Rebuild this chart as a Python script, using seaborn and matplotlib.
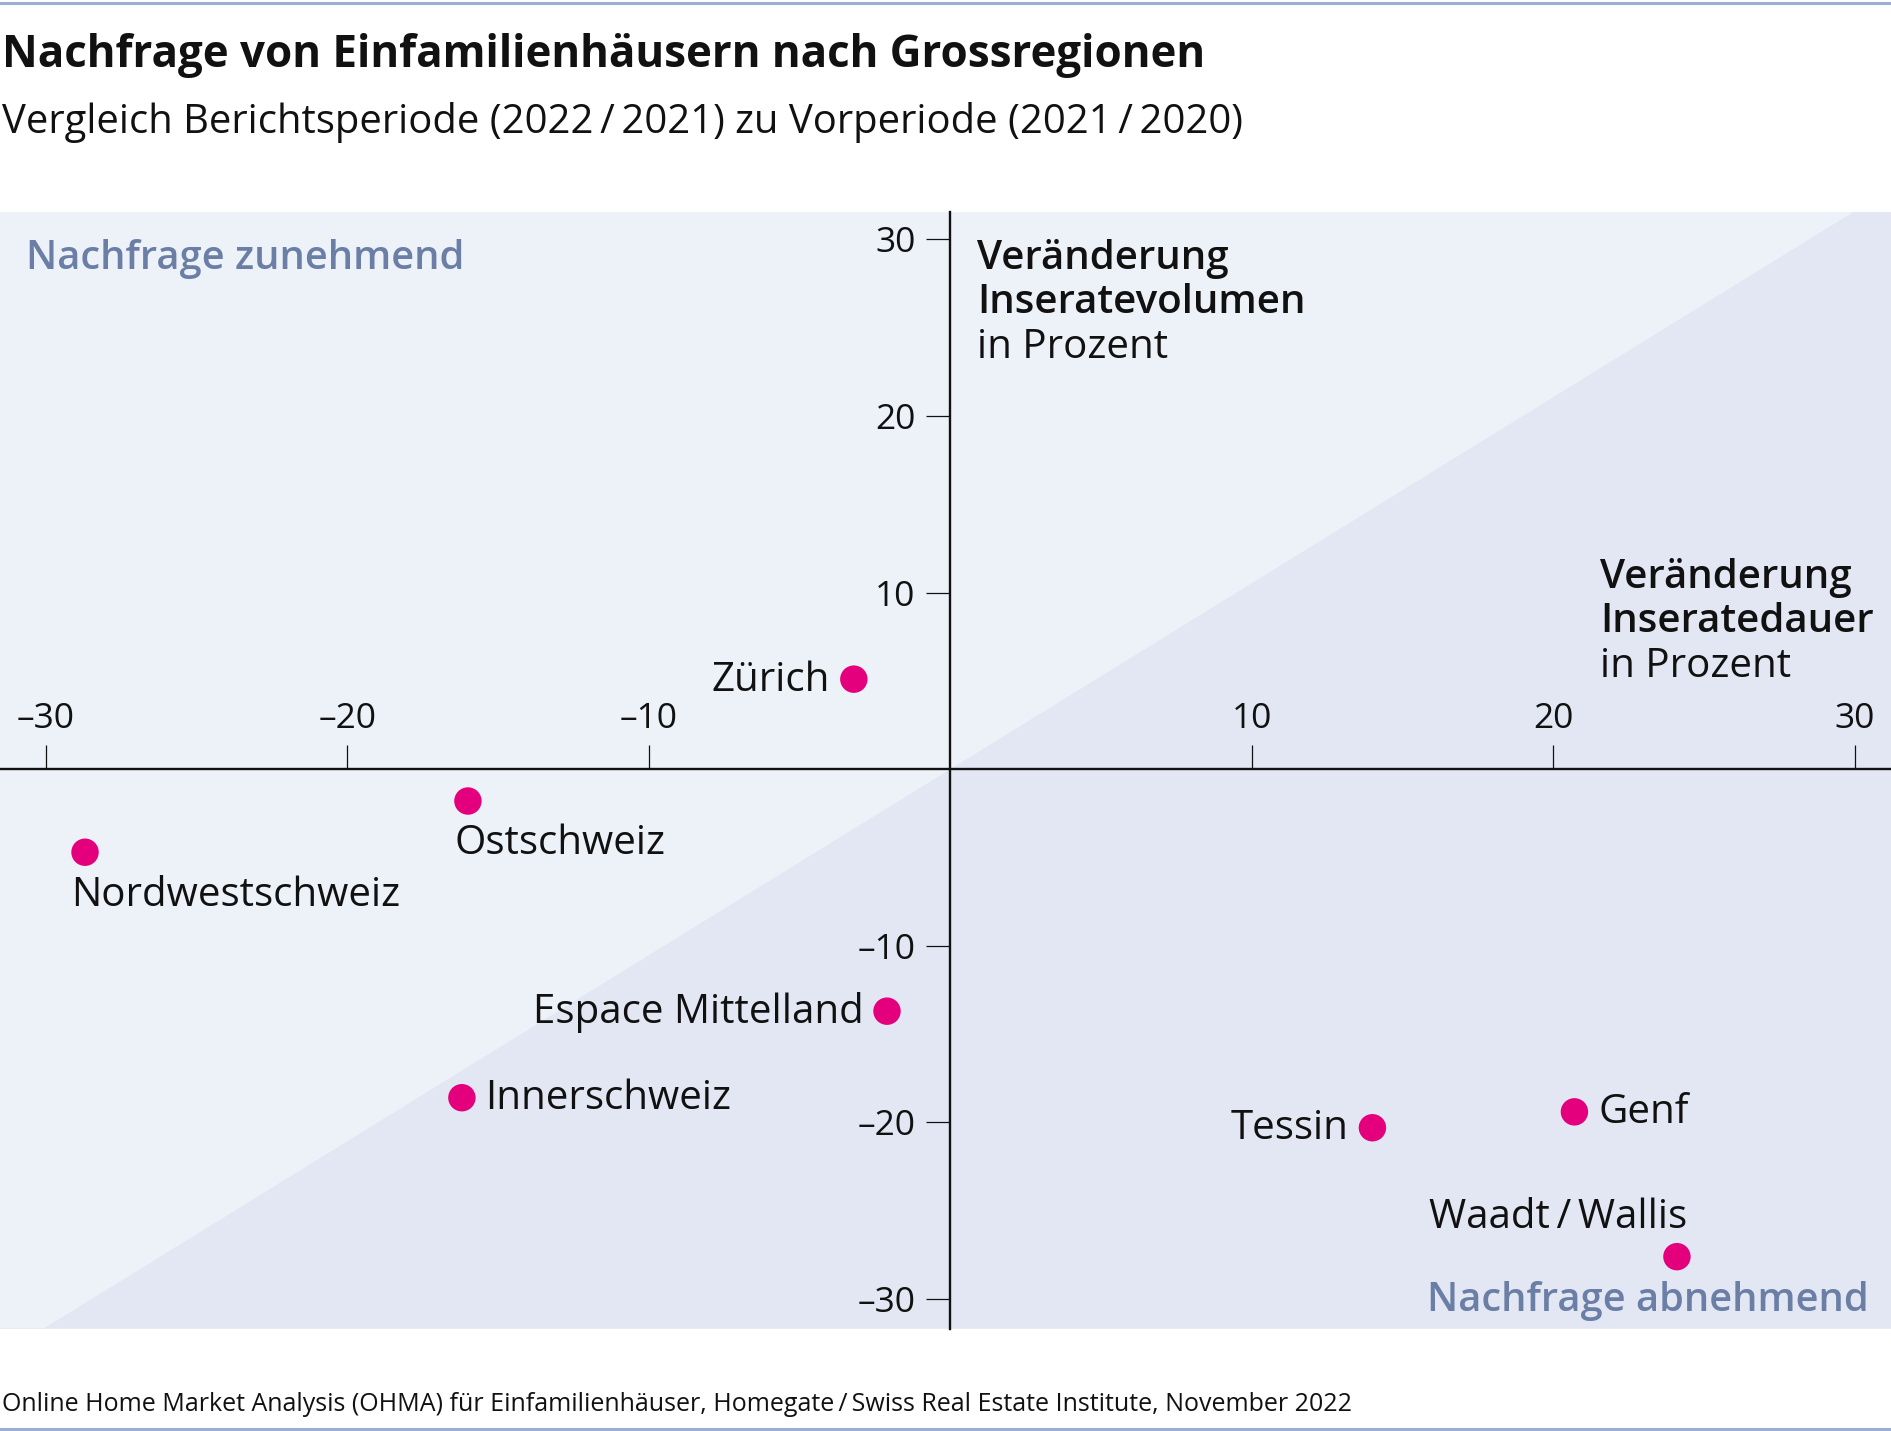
import matplotlib
matplotlib.use("Agg")
import matplotlib.pyplot as plt
import matplotlib.lines as mlines
import seaborn as sns
import pandas as pd
import numpy as np

# data
REGIONS = ["Zürich", "Ostschweiz", "Nordwestschweiz", "Espace Mittelland",
           "Innerschweiz", "Tessin", "Genf", "Waadt\u2009/\u2009Wallis"]
DAUER = [-3.2, -16.0, -28.7, -2.1, -16.2, 14.0, 20.7, 24.1]       # x: Veränderung Inseratedauer
VOLUMEN = [5.1, -1.8, -4.7, -13.7, -18.6, -20.3, -19.4, -27.6]   # y: Veränderung Inseratevolumen
LABEL_SIDE = ["left", "below", "below", "left", "right", "left", "right", "above"]
X_TICKS = [-30, -20, -10, 10, 20, 30]
Y_TICKS = [-30, -20, -10, 10, 20, 30]

TITLE = "Nachfrage von Einfamilienhäusern nach Grossregionen"
SUBTITLE = "Vergleich Berichtsperiode (2022\u2009/\u20092021) zu Vorperiode (2021\u2009/\u20092020)"
SOURCE = "Online Home Market Analysis (OHMA) für Einfamilienhäuser, Homegate\u2009/\u2009Swiss Real Estate Institute, November 2022"

# styles
FIG_W, FIG_H, DPI = 18.91, 14.31, 100
TEXT_COLOR = "#111111"
POINT_COLOR = "#e4007c"
BG_LIGHT = "#edf1f8"
BG_DARK = "#e2e7f3"
HINT_COLOR = "#6b7ea5"
RULE_COLOR = "#9caed6"
XLIM = (-31.52, 31.2)
YLIM = (-31.67, 31.54)
DIAG_SLOPE = 31.6 / 30
LABEL_SIZE = 29

sns.set_style("white")
plt.rcParams["font.family"] = ["Open Sans", "DejaVu Sans"]
plt.rcParams["text.color"] = TEXT_COLOR

df = pd.DataFrame({"region": REGIONS, "dauer": DAUER, "volumen": VOLUMEN, "side": LABEL_SIDE})

fig = plt.figure(figsize=(FIG_W, FIG_H), dpi=DPI)
ax = fig.add_axes([0, 0.0716, 1, 0.7801])
ax.set_facecolor(BG_LIGHT)
ax.set_xlim(*XLIM)
ax.set_ylim(*YLIM)

# darker triangle below the diagonal
xs = np.array(XLIM)
ax.fill_between(xs, xs * DIAG_SLOPE, YLIM[0], color=BG_DARK, lw=0, zorder=0)

sns.scatterplot(data=df, x="dauer", y="volumen", ax=ax, s=390, color=POINT_COLOR,
                edgecolor="none", linewidth=0, zorder=5, legend=False)

offsets = {
    "left": ((-17, -1), "right", "center"),
    "right": ((17, -1), "left", "center"),
    "below": ((-10, -31), "left", "center"),
    "above": ((7, 28), "right", "center"),
}
for _, row in df.iterrows():
    (dx, dy), ha, va = offsets[row["side"]]
    ax.annotate(row["region"], (row["dauer"], row["volumen"]), xytext=(dx, dy),
                textcoords="offset points", ha=ha, va=va, fontsize=LABEL_SIZE, color=TEXT_COLOR)

# axes through zero
for s in ["right", "bottom"]:
    ax.spines[s].set_visible(False)
ax.spines["top"].set_position(("data", 0))
ax.spines["left"].set_position(("data", 0))
for s in ["top", "left"]:
    ax.spines[s].set_linewidth(1.7)
    ax.spines[s].set_color(TEXT_COLOR)
ax.xaxis.set_ticks_position("top")
ax.yaxis.set_ticks_position("left")
ax.set_xticks(X_TICKS)
ax.set_yticks(Y_TICKS)
ax.set_xticklabels([str(t).replace("-", "\u2013") for t in X_TICKS])
ax.set_yticklabels([str(t).replace("-", "\u2013") for t in Y_TICKS])
ax.tick_params(axis="x", direction="out", length=17, width=0.9, pad=7, labelsize=25.5, colors=TEXT_COLOR)
ax.tick_params(axis="y", direction="out", length=17, width=0.9, pad=8, labelsize=25.5, colors=TEXT_COLOR)
ax.set_xlabel("")
ax.set_ylabel("")

# axis descriptions
ax.text(0.5166, 0.958, "Veränderung", transform=ax.transAxes, fontsize=LABEL_SIZE, fontweight="semibold", va="center")
ax.text(0.5166, 0.919, "Inseratevolumen", transform=ax.transAxes, fontsize=LABEL_SIZE, fontweight="semibold", va="center")
ax.text(0.5166, 0.879, "in Prozent", transform=ax.transAxes, fontsize=LABEL_SIZE, va="center")
ax.text(0.8463, 0.672, "Veränderung", transform=ax.transAxes, fontsize=LABEL_SIZE, fontweight="semibold", va="center")
ax.text(0.8463, 0.633, "Inseratedauer", transform=ax.transAxes, fontsize=LABEL_SIZE, fontweight="semibold", va="center")
ax.text(0.8463, 0.593, "in Prozent", transform=ax.transAxes, fontsize=LABEL_SIZE, va="center")

ax.text(0.014, 0.958, "Nachfrage zunehmend", transform=ax.transAxes, fontsize=28.7,
        fontweight="semibold", color=HINT_COLOR, va="center")
ax.text(0.988, 0.025, "Nachfrage abnehmend", transform=ax.transAxes, fontsize=28.7,
        fontweight="semibold", color=HINT_COLOR, va="center", ha="right")

# title block and footer
fig.text(0.0013, 0.9615, TITLE, fontsize=31.6, fontweight="bold", va="center")
fig.text(0.0013, 0.9147, SUBTITLE, fontsize=28.8, va="center")
fig.text(0.0013, 0.0185, SOURCE, fontsize=18, va="center")
fig.add_artist(mlines.Line2D([0, 1], [0.998, 0.998], transform=fig.transFigure, color=RULE_COLOR, lw=2.2))
fig.add_artist(mlines.Line2D([0, 1], [0.0015, 0.0015], transform=fig.transFigure, color=RULE_COLOR, lw=2.2))

fig.savefig("out.png", dpi=DPI, facecolor="white")
